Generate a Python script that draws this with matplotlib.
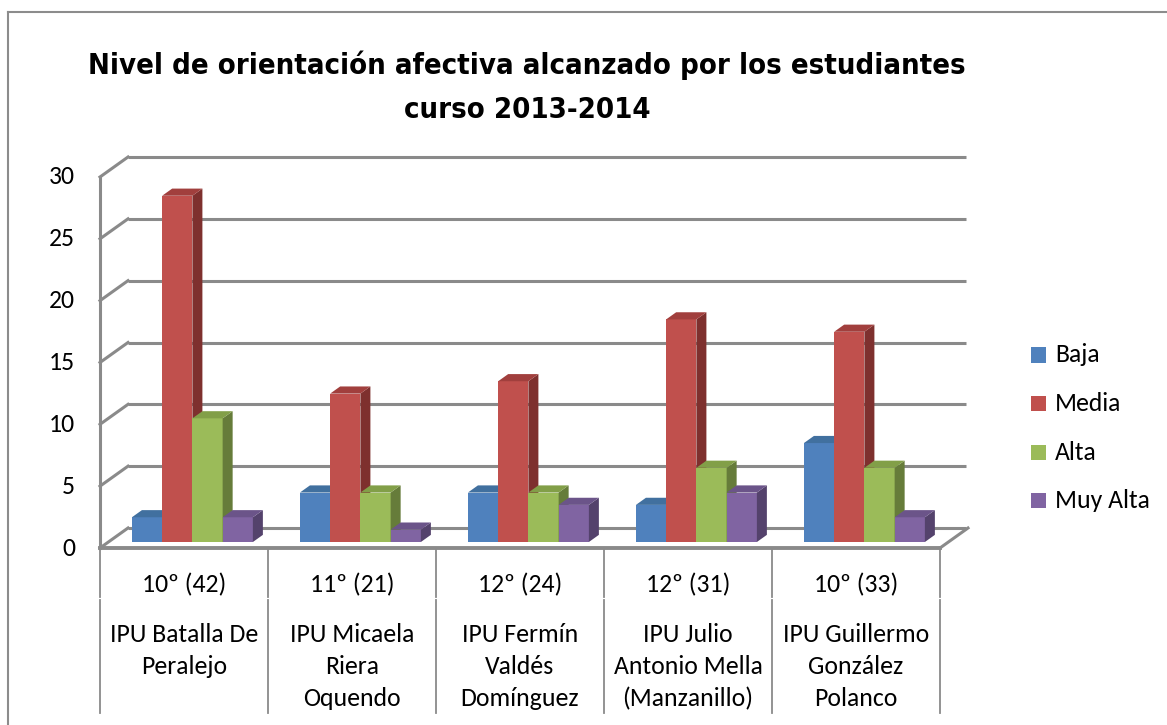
import matplotlib
matplotlib.use("Agg")
import matplotlib.pyplot as plt
from matplotlib.patches import Polygon, Rectangle
from matplotlib.lines import Line2D
import numpy as np
import logging
logging.getLogger('matplotlib.font_manager').setLevel(logging.ERROR)

# ---- data ----
title_line1 = "Nivel de orientación afectiva alcanzado por los estudiantes"
title_line2 = "curso 2013-2014"
grades = ["10º (42)", "11º (21)", "12º (24)", "12º (31)", "10º (33)"]
schools = [["IPU Batalla De", "Peralejo"], ["IPU Micaela", "Riera", "Oquendo"],
           ["IPU Fermín", "Valdés", "Domínguez"],
           ["IPU Julio", "Antonio Mella", "(Manzanillo)"], ["IPU Guillermo", "González", "Polanco"]]
series_names = ["Baja", "Media", "Alta", "Muy Alta"]
baja = [2, 4, 4, 3, 8]
media = [28, 12, 13, 18, 17]
alta = [10, 4, 4, 6, 6]
muy_alta = [2, 1, 3, 4, 2]
yticks = [0, 5, 10, 15, 20, 25, 30]

series = [baja, media, alta, muy_alta]
front_cols = ["#4F81BD", "#C0504D", "#9BBB59", "#8064A2"]
side_cols = ["#385D8A", "#7E302E", "#667C3A", "#54426C"]
top_cols = ["#41709F", "#A13F3D", "#829F48", "#6B5489"]

BODY = ['Carlito', 'Lato', 'DejaVu Sans']
TITLE = ['DejaVu Sans']

W, H = 1167, 725
fig = plt.figure(figsize=(W / 100, H / 100), dpi=100)
fig.patch.set_facecolor("white")

# outer chart border (left & top visible)
fig.add_artist(Line2D([8 / W, 8 / W], [0, 1 - 12 / H], transform=fig.transFigure, color="#8c8c8c", lw=1.5))
fig.add_artist(Line2D([8 / W, 1], [1 - 12 / H, 1 - 12 / H], transform=fig.transFigure, color="#8c8c8c", lw=1.5))

# title
fig.text(527 / W, 1 - 74 / H, title_line1, ha="center", va="baseline", fontsize=21,
         fontweight="bold", family=TITLE, fontstretch="condensed")
fig.text(527 / W, 1 - 118 / H, title_line2, ha="center", va="baseline", fontsize=21,
         fontweight="bold", family=TITLE, fontstretch="condensed")

# front plane axes
ax = fig.add_axes([100 / W, 1 - 548 / H, 840 / W, (548 - 177) / H])
ncat = len(grades)
ax.set_xlim(0, ncat)
ax.set_ylim(0, 30)
ax.axis("off")

px_x = 840 / ncat
px_y = (548 - 177) / 30.0
OX = 28 / px_x   # depth offset in data units
OY = 20 / px_y

gc = "#8a8a8a"
glw = 2.2
for v in yticks:
    ax.plot([OX, ncat + OX - 0.01], [v + OY, v + OY], color=gc, lw=glw, clip_on=False, zorder=1,
            solid_capstyle="butt")
    ax.plot([0, OX], [v, v + OY], color=gc, lw=glw, clip_on=False, zorder=1)
# front left edge
ax.plot([0, 0], [0, 30], color=gc, lw=glw, clip_on=False, zorder=1)
# floor front and right edge
ax.plot([0, ncat], [0, 0], color=gc, lw=glw + 0.6, clip_on=False, zorder=1)
ax.plot([ncat, ncat + OX], [0, OY], color=gc, lw=glw, clip_on=False, zorder=1)

# bars
d0 = 0.3
bd = 10 / 28
bw = 0.18
z = 5
x_centers = np.arange(ncat) + 0.5
for i in range(ncat):
    for j, vals in enumerate(series):
        v = vals[i]
        xl = x_centers[i] + (j - 2) * bw + d0 * OX
        b = d0 * OY
        ax.bar(xl, v, width=bw, bottom=b, align="edge", color=front_cols[j], lw=0,
               zorder=z, clip_on=False)
        xr = xl + bw
        side = Polygon([(xr, b), (xr, b + v), (xr + bd * OX, b + v + bd * OY), (xr + bd * OX, b + bd * OY)],
                       closed=True, facecolor=side_cols[j], lw=0, zorder=z, clip_on=False)
        top = Polygon([(xl, b + v), (xr, b + v), (xr + bd * OX, b + v + bd * OY), (xl + bd * OX, b + v + bd * OY)],
                      closed=True, facecolor=top_cols[j], lw=0, zorder=z, clip_on=False)
        ax.add_patch(side)
        ax.add_patch(top)
        z += 1

FS = 18.5
# y tick labels
ytr = ax.get_yaxis_transform()
for v in yticks:
    ax.text(-25 / 840, v, str(v), transform=ytr, ha="right", va="center", fontsize=FS, family=BODY)

# category table
xtr = ax.get_xaxis_transform()
for k in range(ncat + 1):
    ax.plot([k, k], [0, -49 / 371], transform=xtr, color="#8a8a8a", lw=1.3, clip_on=False)
    ax.plot([k, k], [-52 / 371, -165 / 371], transform=xtr, color="#8a8a8a", lw=1.3, clip_on=False)
for i in range(ncat):
    ax.text(x_centers[i], -37 / 371, grades[i], transform=xtr, ha="center", va="center",
            fontsize=FS, family=BODY)
    for li, line in enumerate(schools[i]):
        ax.text(x_centers[i], -(94 + 32 * li) / 371, line, transform=xtr, ha="center",
                va="baseline", fontsize=FS, family=BODY)

# legend
for j, name in enumerate(series_names):
    yc = 355 + j * 48.5
    fig.add_artist(Rectangle((1031 / W, 1 - (yc + 7.5) / H), 15 / W, 15 / H,
                             transform=fig.transFigure, facecolor=front_cols[j], lw=0))
    fig.text(1055 / W, 1 - yc / H, name, ha="left", va="center", fontsize=FS, family=BODY)

fig.savefig("out.png", dpi=100, facecolor="white")
